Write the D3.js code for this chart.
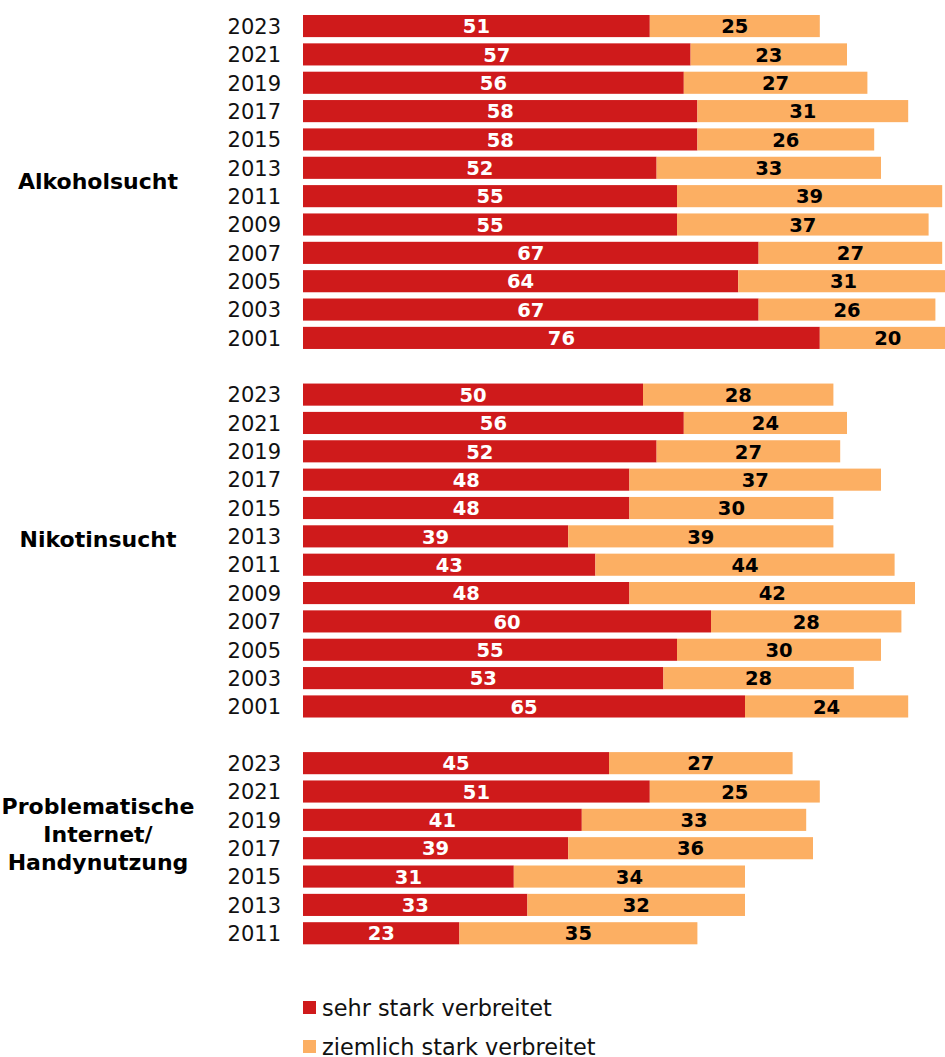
<!DOCTYPE html>
<html><head><meta charset="utf-8">
<script src="https://cdn.jsdelivr.net/npm/d3@7"></script>
<style>body{margin:0;background:#fff}svg{display:block}</style>
</head><body>
<script>
const groups = ["Alkoholsucht", "Nikotinsucht", "Problematische Internet/ Handynutzung"];
const years1 = [2023,2021,2019,2017,2015,2013,2011,2009,2007,2005,2003,2001];
const years3 = [2023,2021,2019,2017,2015,2013,2011];
const alkSehr = [51,57,56,58,58,52,55,55,67,64,67,76];
const alkZiem = [25,23,27,31,26,33,39,37,27,31,26,20];
const nikSehr = [50,56,52,48,48,39,43,48,60,55,53,65];
const nikZiem = [28,24,27,37,30,39,44,42,28,30,28,24];
const intSehr = [45,51,41,39,31,33,23];
const intZiem = [27,25,33,36,34,32,35];
const seriesNames = ["sehr stark verbreitet", "ziemlich stark verbreitet"];
const colors = ["#CF1A1B", "#FCAF63"];

const W = 945, H = 1057;
const font = "'DejaVu Sans', sans-serif";
const svg = d3.select("body").append("svg").attr("width", W).attr("height", H);

const groupData = [
  {name: groups[0], years: years1, a: alkSehr, b: alkZiem, lines: ["Alkoholsucht"]},
  {name: groups[1], years: years1, a: nikSehr, b: nikZiem, lines: ["Nikotinsucht"]},
  {name: groups[2], years: years3, a: intSehr, b: intZiem, lines: ["Problematische", "Internet/", "Handynutzung"]}
];

const slots = [];
const rows = [];
groupData.forEach((g, gi) => {
  g.years.forEach((yr, i) => {
    const id = gi + "-" + yr;
    slots.push(id);
    rows.push({id, year: yr, a: g.a[i], b: g.b[i], gi});
  });
  if (gi < groupData.length - 1) slots.push("gap" + gi);
});

const step = 28.35, pad = 0.22, y0 = 15;
const y = d3.scaleBand().domain(slots).range([y0, y0 + step * slots.length - step * pad]).paddingInner(pad).paddingOuter(0);
const x = d3.scaleLinear().domain([0, 100]).range([303, 983]);

const rowG = svg.selectAll("g.row").data(rows).join("g").attr("class", "row");
rowG.append("rect").attr("x", d => x(0)).attr("y", d => y(d.id))
  .attr("width", d => x(d.a) - x(0)).attr("height", y.bandwidth()).attr("fill", colors[0]);
rowG.append("rect").attr("x", d => x(d.a)).attr("y", d => y(d.id))
  .attr("width", d => x(d.a + d.b) - x(d.a)).attr("height", y.bandwidth()).attr("fill", colors[1]);
rowG.append("text").attr("x", d => (x(0) + x(d.a)) / 2).attr("y", d => y(d.id) + y.bandwidth() / 2)
  .attr("dy", "0.37em").attr("text-anchor", "middle").attr("fill", "#fff")
  .style("font", `bold 19.5px ${font}`).text(d => d.a);
rowG.append("text").attr("x", d => (x(d.a) + x(d.a + d.b)) / 2).attr("y", d => y(d.id) + y.bandwidth() / 2)
  .attr("dy", "0.37em").attr("text-anchor", "middle").attr("fill", "#000")
  .style("font", `bold 19.5px ${font}`).text(d => d.b);
rowG.append("text").attr("x", 281).attr("y", d => y(d.id) + y.bandwidth() / 2)
  .attr("dy", "0.37em").attr("text-anchor", "end").attr("fill", "#111")
  .style("font", `21px ${font}`).text(d => d.year);

const labelCenters = [181, 539, 834];
groupData.forEach((g, gi) => {
  const n = g.lines.length, lh = 28;
  g.lines.forEach((ln, li) => {
    svg.append("text").attr("x", 98).attr("y", labelCenters[gi] + (li - (n - 1) / 2) * lh)
      .attr("dy", "0.37em").attr("text-anchor", "middle").attr("fill", "#000")
      .style("font", `bold 22px ${font}`).text(ln);
  });
});

seriesNames.forEach((s, i) => {
  const ly = 1008 + i * 39;
  svg.append("rect").attr("x", 303).attr("y", ly - 7).attr("width", 13).attr("height", 13).attr("fill", colors[i]);
  svg.append("text").attr("x", 322).attr("y", ly).attr("dy", "0.37em").attr("fill", "#111")
    .style("font", `22.4px ${font}`).text(s);
});
</script>
</body></html>
